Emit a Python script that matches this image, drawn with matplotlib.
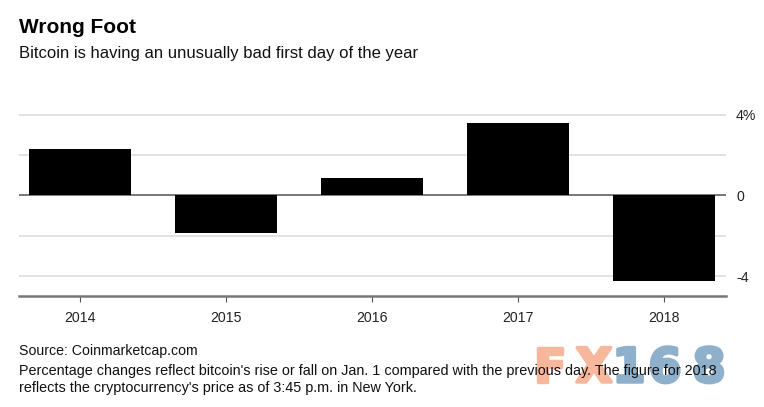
import numpy as np
import matplotlib
matplotlib.use("Agg")
import matplotlib.pyplot as plt
import matplotlib.patheffects as pe

years = ["2014", "2015", "2016", "2017", "2018"]
changes = [2.3, -1.87, 0.86, 3.58, -4.25]
yticks = [-4, -2, 0, 2, 4]
ylabels = ["-4", "", "0", "", "4%"]

W, H = 764, 407
plt.rcParams["font.family"] = ["Liberation Sans", "DejaVu Sans"]

fig = plt.figure(figsize=(W / 100, H / 100), dpi=100)

# axes box in pixels
left, right, top, bottom = 19, 725.7, 105, 296
ax = fig.add_axes([left / W, 1 - bottom / H, (right - left) / W, (bottom - top) / H])
ax.patch.set_alpha(0)

px_per_unit = 20.2
zero_y = 195.4
ax.set_ylim((zero_y - bottom) / px_per_unit, (zero_y - top) / px_per_unit)
ax.set_xlim(-0.418, 4.42)

x = np.arange(len(years))
ax.set_axisbelow(True)
ax.yaxis.grid(True, color="#dcdcdc", lw=1.2)
ax.bar(x, changes, width=0.7, color="black", zorder=3)
ax.axhline(0, color="#666666", lw=1.2, zorder=2)

for s in ["top", "left", "right"]:
    ax.spines[s].set_visible(False)
ax.spines["bottom"].set_color("#777777")
ax.spines["bottom"].set_linewidth(1.8)

ax.set_xticks(x)
ax.set_xticklabels(years)
ax.tick_params(axis="x", length=4, width=0.8, color="#555555", labelsize=10.2, pad=6.5, labelcolor="#222222")
ax.yaxis.tick_right()
ax.set_yticks(yticks)
ax.set_yticklabels(ylabels)
ax.tick_params(axis="y", length=0, labelsize=10.2, pad=7.5, labelcolor="#222222")

def fx(px):
    return px / W

def fy(px):
    return 1 - px / H

# watermark, one letter at a time so it spreads as wide as the original
mark = [("F", 550, "#f7b79c"), ("X", 594, "#f7b79c"), ("1", 629, "#8fb0cb"),
        ("6", 665, "#8fb0cb"), ("8", 709, "#8fb0cb")]
for ch, px, col in mark:
    t = fig.text(fx(px), fy(382), ch, color=col, fontsize=34, fontweight="bold",
                 family="DejaVu Sans", ha="center", va="baseline", zorder=0)
    t.set_path_effects([pe.withStroke(linewidth=2.5, foreground=col)])

fig.text(fx(19), fy(33), "Wrong Foot", fontsize=15, fontweight="bold", color="black", va="baseline", zorder=2)
fig.text(fx(19), fy(58), "Bitcoin is having an unusually bad first day of the year",
         fontsize=11.95, color="#111111", va="baseline", zorder=2)
fig.text(fx(19), fy(355), "Source: Coinmarketcap.com", fontsize=10.2, color="#111111", va="baseline", zorder=2)
fig.text(fx(19), fy(375.5), "Percentage changes reflect bitcoin's rise or fall on Jan. 1 compared with the previous day. The figure for 2018",
         fontsize=10.4, color="#111111", va="baseline", zorder=2)
fig.text(fx(19), fy(392), "reflects the cryptocurrency's price as of 3:45 p.m. in New York.",
         fontsize=10.4, color="#111111", va="baseline", zorder=2)

fig.savefig("out.png", dpi=100)
